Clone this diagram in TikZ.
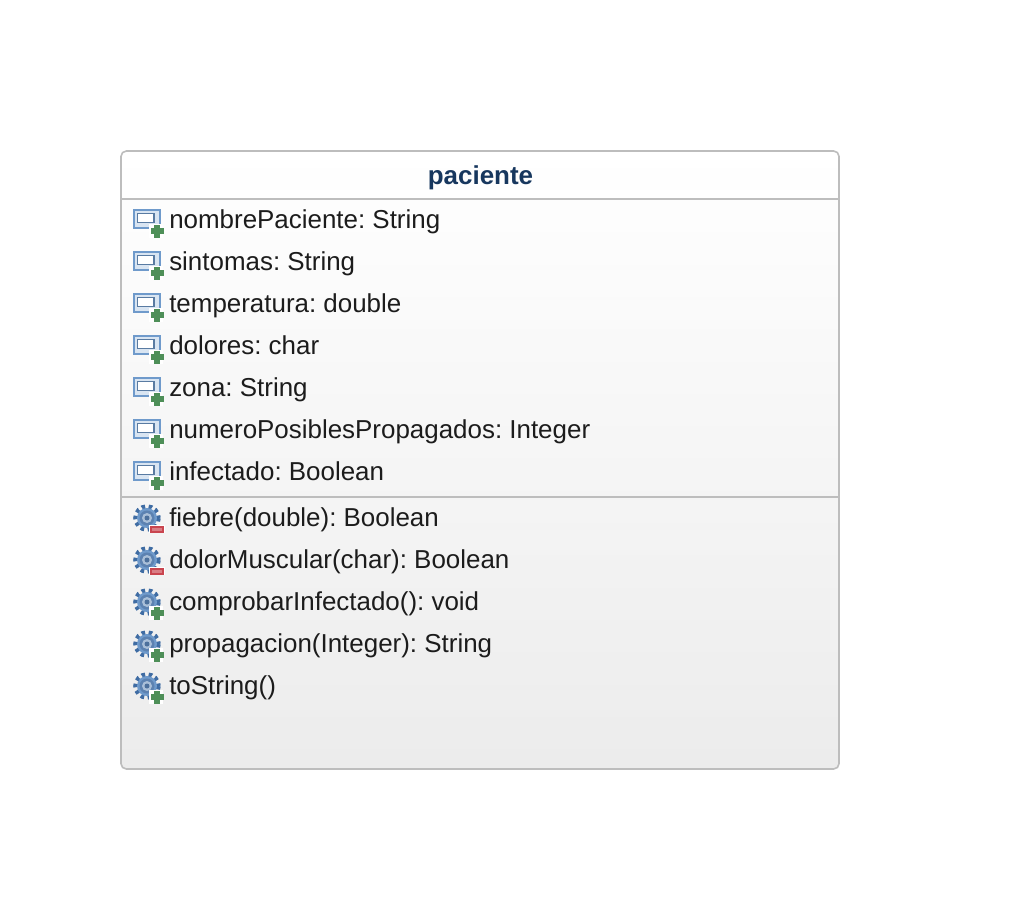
\documentclass[tikz,border=0pt]{standalone}
\usepackage{fontspec}
\setmainfont{Liberation Sans}
\usetikzlibrary{fit}
\definecolor{headtext}{HTML}{17375E}
\definecolor{rowtext}{HTML}{1C1C1C}
\definecolor{boxline}{HTML}{BDBDBD}
\definecolor{iconblue}{HTML}{6F9ACB}
\definecolor{icondark}{HTML}{3F6CA3}
\definecolor{iconpale}{HTML}{D9E5F2}
\definecolor{iconmid}{HTML}{A9BFD8}
\definecolor{plusgreen}{HTML}{4E8F58}
\definecolor{minusred}{HTML}{C9454F}
\tikzset{
    x=0.75pt,y=-0.75pt,
    classbox/.style={draw=boxline,line width=1.2pt,rounded corners=4pt,inner sep=0pt,outer sep=0pt,top color=white,bottom color=black!7.5},
    rule/.style={draw=boxline,line width=1.5pt},
    head/.style={inner sep=0pt,anchor=base,text=headtext,font=\fontsize{19.45pt}{23pt}\selectfont\bfseries},
    row/.style={inner sep=0pt,anchor=base west,text=rowtext,font=\fontsize{19.45pt}{23pt}\selectfont\frenchspacing},
    plus/.pic={
      \fill[white] (12,5) rectangle (26,19);
      \fill[plusgreen] (17,5.5) rectangle (23,18.5);
      \fill[plusgreen] (13.5,9) rectangle (26.5,15);
    },
    minus/.pic={
      \fill[white] (3,7) rectangle (19,15);
      \fill[minusred] (4,8) rectangle (18,14.5);
      \fill[minusred!70!white] (6,10) rectangle (16,12.5);
    },
    field/.pic={
      \draw[iconblue,line width=1.5pt,fill=iconpale] (-12.5,-9.5) rectangle (14,8.5);
      \draw[iconblue!80!black,line width=.8pt,fill=white] (-8.5,-5.5) rectangle (8,3.5);
    },
    gear/.pic={
      \draw[icondark,line width=3.4pt,dash pattern=on 2.6pt off 2.6pt] (0,0) circle (11.5);
      \fill[iconblue] (0,0) circle (10);
      \fill[icondark!85!white] (0,0) circle (7.5);
      \fill[iconmid] (0,0) circle (5);
      \fill[icondark!80!gray] (0,0) circle (2.5);
    }
}
\begin{document}
\begin{tikzpicture}
      \useasboundingbox (0,0) rectangle (1016,918);

      \coordinate (topleft) at (121,151);
      \coordinate (botright) at (839,769);
      \node[classbox,fit=(topleft) (botright)] (box) {};

      \coordinate (headline) at (121,198.5);
      \coordinate (midline) at (121,496.5);
      \path[rule] (headline) -- (headline -| box.east);
      \path[rule] (midline) -- (midline -| box.east);

      \node[head] (title) at (480.5,184) {paciente};

      \pic at (146,219) {field};
      \pic at (146,261) {field};
      \pic at (146,303) {field};
      \pic at (146,345) {field};
      \pic at (146,387) {field};
      \pic at (146,429) {field};
      \pic at (146,471) {field};
      \pic at (137,219) {plus};
      \pic at (137,261) {plus};
      \pic at (137,303) {plus};
      \pic at (137,345) {plus};
      \pic at (137,387) {plus};
      \pic at (137,429) {plus};
      \pic at (137,471) {plus};

      \node[row] (a1) at (169,228) {nombrePaciente: String};
      \node[row] (a2) at (169,270) {sintomas: String};
      \node[row] (a3) at (169,312) {temperatura: double};
      \node[row] (a4) at (169,354) {dolores: char};
      \node[row] (a5) at (169,396) {zona: String};
      \node[row] (a6) at (169,438) {numeroPosiblesPropagados: Integer};
      \node[row] (a7) at (169,480) {infectado: Boolean};

      \pic at (147,518) {gear};
      \pic at (147,560) {gear};
      \pic at (147,602) {gear};
      \pic at (147,644) {gear};
      \pic at (147,686) {gear};
      \pic at (146,518) {minus};
      \pic at (146,560) {minus};
      \pic at (137,601) {plus};
      \pic at (137,643) {plus};
      \pic at (137,685) {plus};

      \node[row] (m1) at (169,526) {fiebre(double): Boolean};
      \node[row] (m2) at (169,568) {dolorMuscular(char): Boolean};
      \node[row] (m3) at (169,610) {comprobarInfectado(): void};
      \node[row] (m4) at (169,652) {propagacion(Integer): String};
      \node[row] (m5) at (169,694) {toString()};
    \end{tikzpicture}
\end{document}
